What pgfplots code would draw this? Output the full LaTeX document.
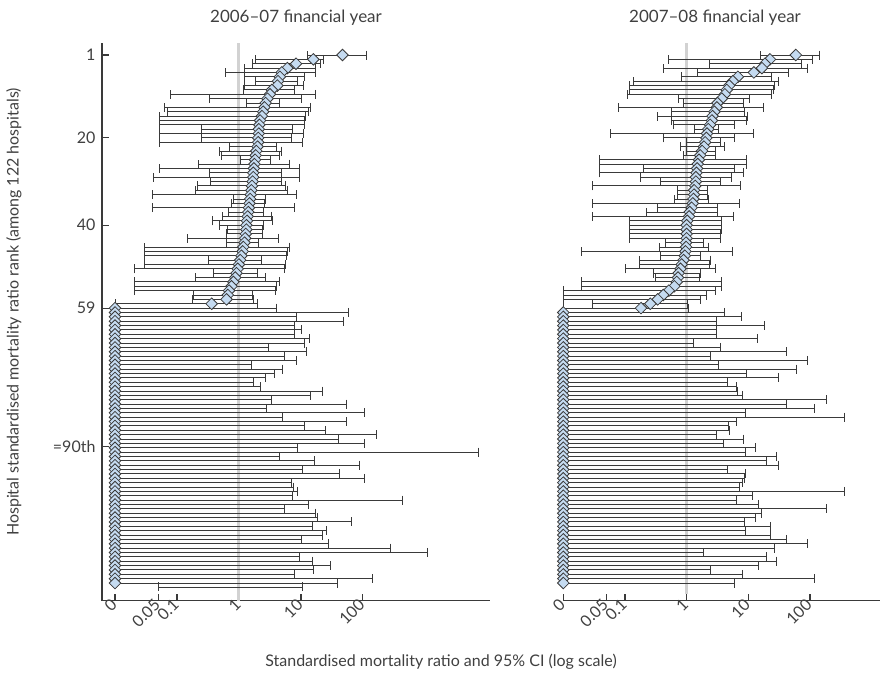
\documentclass[border=0pt]{standalone}
\usepackage{pgfplots}
\pgfplotsset{compat=1.18}
\usepackage{pgfplotstable}
\usepackage{fontspec}
\setmainfont{Lato}
\definecolor{txt}{HTML}{404040}
\definecolor{ln}{HTML}{3A3A3A}
\definecolor{dfill}{HTML}{C5DBF1}
\definecolor{vline}{HTML}{D2D2D2}

% log10 of SMR; a SMR of 0 is drawn at -2
\pgfplotstableread{
r s lo hi
1 1.67 1.10 2.06
2 1.20 0.27 1.37
3 0.92 0.22 1.32
4 0.78 0.09 1.24
5 0.69 -0.22 1.24
6 0.66 0.09 1.06
7 0.63 0.27 0.95
8 0.62 0.09 1.04
9 0.53 0.07 0.90
10 0.50 -1.10 1.24
11 0.46 -0.47 1.00
12 0.43 0.12 0.65
13 0.41 -1.20 1.16
14 0.39 -1.15 1.12
15 0.37 -1.28 1.08
16 0.34 -1.28 1.06
17 0.33 -1.28 1.06
18 0.32 -0.60 0.87
19 0.32 -1.28 1.04
20 0.31 -0.60 0.85
21 0.31 -1.28 1.02
22 0.30 -0.15 0.61
23 0.28 -0.31 0.68
24 0.27 -0.29 0.66
25 0.26 0.02 0.50
26 0.25 -0.66 0.81
27 0.24 -1.28 0.98
28 0.23 -0.47 0.69
29 0.23 -1.38 0.98
30 0.22 -0.46 0.69
31 0.21 -0.67 0.75
32 0.20 -0.71 0.78
33 0.19 -1.40 0.93
34 0.18 -0.09 0.42
35 0.17 -0.12 0.41
36 0.16 -1.40 0.89
37 0.15 -0.17 0.39
38 0.14 -0.26 0.52
39 0.13 -0.42 0.54
40 0.12 -0.31 0.39
41 0.12 -0.18 0.38
42 0.11 -0.21 0.38
43 0.10 -0.83 0.63
44 0.09 -0.21 0.31
45 0.07 -1.52 0.81
46 0.06 -1.52 0.78
47 0.04 -1.52 0.77
48 0.02 -0.49 0.37
49 0.00 -1.52 0.75
50 -0.02 -1.69 0.73
51 -0.04 -0.41 0.30
52 -0.06 -0.71 0.43
53 -0.09 -1.69 0.66
54 -0.12 -1.69 0.61
55 -0.16 -1.69 0.59
56 -0.18 -0.74 0.22
57 -0.20 -0.75 0.23
58 -0.44 -2.00 0.30
59 -2 -2 0.60
60 -2 -2 1.76
61 -2 -2 0.93
62 -2 -2 1.69
63 -2 -2 0.89
64 -2 -2 1.00
65 -2 -2 0.89
66 -2 -2 1.13
67 -2 -2 1.05
68 -2 -2 0.47
69 -2 -2 1.09
70 -2 -2 0.73
71 -2 -2 0.92
72 -2 -2 0.20
73 -2 -2 0.70
74 -2 -2 0.57
75 -2 -2 0.43
76 -2 -2 0.24
77 -2 -2 0.35
78 -2 -2 1.35
79 -2 -2 1.16
80 -2 -2 0.52
81 -2 -2 1.74
82 -2 -2 0.45
83 -2 -2 2.02
84 -2 -2 0.70
85 -2 -2 1.74
86 -2 -2 1.06
87 -2 -2 1.40
88 -2 -2 2.22
89 -2 -2 1.60
90 -2 -2 2.02
91 -2 -2 0.94
92 -2 -2 3.87
93 -2 -2 0.65
94 -2 -2 1.21
95 -2 -2 1.94
96 -2 -2 1.03
97 -2 -2 1.62
98 -2 -2 2.03
99 -2 -2 0.84
100 -2 -2 0.88
101 -2 -2 0.94
102 -2 -2 0.87
103 -2 -2 2.64
104 -2 -2 1.12
105 -2 -2 0.74
106 -2 -2 1.24
107 -2 -2 1.26
108 -2 -2 1.82
109 -2 -2 1.18
110 -2 -2 1.41
111 -2 -2 1.35
112 -2 -2 1.01
113 -2 -2 1.44
114 -2 -2 2.45
115 -2 -2 3.04
116 -2 -2 0.97
117 -2 -2 1.18
118 -2 -2 1.48
119 -2 -2 1.20
120 -2 -2 0.89
121 -2 -2 2.16
122 -2 -2 1.59
}\leftdata

\pgfplotstableread{
r s lo hi
1 1.77 1.19 2.16
2 1.35 -0.29 2.04
3 1.27 0.37 1.86
4 1.22 -0.38 1.96
5 1.09 0.17 1.65
6 0.83 -0.09 1.38
7 0.75 -0.86 1.49
8 0.69 -0.92 1.42
9 0.65 -0.92 1.41
10 0.62 -0.96 1.37
11 0.57 -0.14 1.02
12 0.50 -0.05 0.92
13 0.49 -1.11 1.25
14 0.45 -0.24 0.93
15 0.42 -0.48 0.98
16 0.41 -0.24 0.97
17 0.38 -0.21 0.77
18 0.35 0.12 0.52
19 0.33 -1.23 1.08
20 0.32 -0.38 0.78
21 0.30 -0.01 0.55
22 0.28 -0.10 0.61
23 0.25 0.00 0.46
24 0.22 -0.05 0.46
25 0.20 -1.41 0.97
26 0.18 -1.41 0.97
27 0.17 -0.70 0.77
28 0.16 -1.41 0.92
29 0.15 -0.75 0.72
30 0.15 -0.42 0.55
31 0.14 -1.53 0.88
32 0.12 -0.15 0.34
33 0.12 -0.15 0.34
34 0.11 -0.20 0.36
35 0.10 -1.53 0.85
36 0.08 -0.48 0.50
37 0.05 -0.66 0.50
38 0.04 -1.53 0.76
39 0.01 -0.92 0.57
40 0.00 -0.92 0.56
41 0.00 -0.92 0.56
42 0.00 -0.92 0.55
43 0.00 -0.92 0.55
44 -0.01 -0.34 0.27
45 -0.01 -0.44 0.35
46 -0.02 -1.70 0.74
47 -0.03 -0.43 0.22
48 -0.05 -0.77 0.39
49 -0.08 -0.77 0.37
50 -0.10 -1.00 0.46
51 -0.13 -0.54 0.23
52 -0.14 -0.51 0.20
53 -0.16 -1.70 0.56
54 -0.20 -1.70 0.56
55 -0.29 -2.00 0.47
56 -0.38 -2.00 0.32
57 -0.47 -2.00 0.23
58 -0.59 -1.53 0.02
59 -0.74 -2.00 0.03
60 -2 -2 0.61
61 -2 -2 0.89
62 -2 -2 0.49
63 -2 -2 1.26
64 -2 -2 0.49
65 -2 -2 0.49
66 -2 -2 1.15
67 -2 -2 0.11
68 -2 -2 0.55
69 -2 -2 1.61
70 -2 -2 0.39
71 -2 -2 1.96
72 -2 -2 0.51
73 -2 -2 1.78
74 -2 -2 0.97
75 -2 -2 1.49
76 -2 -2 0.66
77 -2 -2 0.81
78 -2 -2 0.83
79 -2 -2 0.90
80 -2 -2 2.26
81 -2 -2 1.61
82 -2 -2 2.08
83 -2 -2 0.95
84 -2 -2 2.56
85 -2 -2 0.80
86 -2 -2 0.68
87 -2 -2 0.70
88 -2 -2 0.48
89 -2 -2 0.92
90 -2 -2 0.59
91 -2 -2 1.12
92 -2 -2 0.96
93 -2 -2 1.45
94 -2 -2 1.29
95 -2 -2 1.49
96 -2 -2 0.66
97 -2 -2 0.95
98 -2 -2 0.93
99 -2 -2 0.90
100 -2 -2 0.85
101 -2 -2 2.56
102 -2 -2 1.06
103 -2 -2 0.80
104 -2 -2 1.16
105 -2 -2 2.26
106 -2 -2 1.21
107 -2 -2 1.12
108 -2 -2 0.94
109 -2 -2 1.36
110 -2 -2 0.96
111 -2 -2 1.36
112 -2 -2 1.61
113 -2 -2 1.96
114 -2 -2 1.42
115 -2 -2 0.28
116 -2 -2 1.30
117 -2 -2 1.45
118 -2 -2 1.16
119 -2 -2 0.39
120 -2 -2 0.91
121 -2 -2 2.08
122 -2 -2 0.77
}\rightdata

\pgfplotsset{
  smrpanel/.style={
    scale only axis, anchor=south west,
    height=557.7pt,
    ymin=-1.75, ymax=126.05, y dir=reverse,
    axis x line*=bottom,
    axis line style={ln, line width=1.1pt},
    tick align=inside, major tick length=7pt,
    tick style={ln, line width=1.1pt},
    xtick={-2,-1.30103,-1,0,1,2},
    xticklabels={0,0.05,0.1,1,10,100},
    xticklabel style={rotate=45, anchor=east, text=txt,
      font=\fontsize{16}{18}\selectfont, inner sep=1.5pt},
    clip=false,
  },
  smrplot/.style={
    only marks, mark=square*, mark size=4.1pt,
    mark options={rotate=45, fill=dfill, draw=ln, line width=0.8pt},
    error bars/x dir=both, error bars/x explicit,
    error bars/error bar style={ln, line width=0.9pt},
    error bars/error mark options={ln, line width=0.9pt, mark size=4.5pt, rotate=90},
  },
}

\begin{document}
\begin{tikzpicture}
\path[use as bounding box] (0,0) rectangle (880pt,678pt);

\begin{axis}[smrpanel, at={(102pt,77.3pt)}, width=388pt,
  xmin=-2.21, xmax=4.05,
  axis y line*=left,
  ytick={1,20,40,59,90.8}, yticklabels={1,20,40,59,=90th},
  yticklabel style={text=txt, font=\fontsize{16}{18}\selectfont, xshift=-3pt},
]
\addplot[vline, line width=3pt] coordinates {(0,-1.75) (0,126.05)};
\addplot[smrplot] table[x=s, y=r,
  x error plus expr=\thisrow{hi}-\thisrow{s},
  x error minus expr=\thisrow{s}-\thisrow{lo}] {\leftdata};
\addplot[ln, line width=0.9pt, mark=|, mark size=4.5pt,
  mark options={solid, line width=0.9pt}] coordinates {(-1.30,122.9) (1.03,122.9)};
\end{axis}

\begin{axis}[smrpanel, at={(563.3pt,77.3pt)}, width=316.7pt,
  xmin=-2, xmax=3.135,
  axis y line=none, ytick=\empty,
]
\addplot[vline, line width=3pt] coordinates {(0,-1.75) (0,124.5)};
\addplot[smrplot] table[x=s, y=r,
  x error plus expr=\thisrow{hi}-\thisrow{s},
  x error minus expr=\thisrow{s}-\thisrow{lo}] {\rightdata};
\end{axis}

\node[text=txt, font=\fontsize{17}{20}\selectfont] at (296pt,660pt) {2006–07 financial year};
\node[text=txt, font=\fontsize{17}{20}\selectfont] at (715pt,660pt) {2007–08 financial year};
\node[text=txt, font=\fontsize{16}{19}\selectfont, rotate=90] at (14pt,366pt)
  {Hospital standardised mortality ratio rank (among 122 hospitals)};
\node[text=txt, font=\fontsize{16}{19}\selectfont] at (441pt,16pt)
  {Standardised mortality ratio and 95\% CI (log scale)};
\end{tikzpicture}
\end{document}
